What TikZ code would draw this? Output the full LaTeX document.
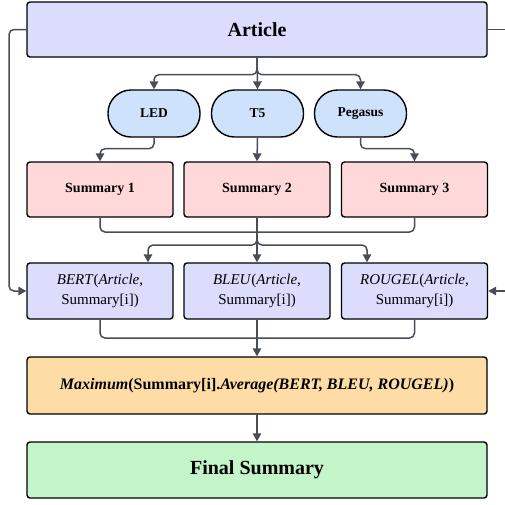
\documentclass[tikz,border=0pt]{standalone}
\usepackage{fontspec}
\setmainfont{Liberation Serif}
\usetikzlibrary{arrows.meta,calc}
\definecolor{lav}{RGB}{220,220,252}
\definecolor{ovalc}{RGB}{206,226,252}
\definecolor{pinkc}{RGB}{255,217,217}
\definecolor{orangec}{RGB}{254,220,166}
\definecolor{greenc}{RGB}{196,245,200}
\definecolor{linec}{RGB}{72,77,86}
\tikzset{
  box/.style={draw=black, line width=1.4pt, rounded corners=3pt, inner sep=0pt, align=center},
  ovalbox/.style={draw=black, line width=1.4pt, rounded corners=23pt, minimum width=92pt, minimum height=47pt, fill=ovalc, font=\fontsize{13.5}{16}\selectfont\bfseries, inner sep=0pt},
  sumbox/.style={box, minimum width=146pt, minimum height=55pt, fill=pinkc, font=\fontsize{14}{17}\selectfont\bfseries},
  metbox/.style={box, minimum width=146pt, minimum height=56pt, fill=lav, font=\fontsize{15}{20}\selectfont},
  wide/.style={box, minimum width=460pt, minimum height=56pt},
  conn/.style={draw=linec, line width=1.5pt, rounded corners=5pt},
  arr/.style={conn, -{Triangle[length=8pt,width=8.5pt]}}
}
\begin{document}
\begin{tikzpicture}[x=1pt,y=-1pt]
\useasboundingbox (0,0) rectangle (505,504);
\node[wide, fill=lav, minimum height=55pt, font=\fontsize{20}{24}\selectfont\bfseries] (article) at (257,29.5) {Article};
\node[ovalbox] (led) at (154,113.5) {LED};
\node[ovalbox] (t5) at (257.5,113.5) {T5};
\node[ovalbox] (peg) at (360.5,113.5) {Pegasus};
\node[sumbox] (s1) at (100,189.5) {Summary 1};
\node[sumbox] (s2) at (257,189.5) {Summary 2};
\node[sumbox] (s3) at (414.5,189.5) {Summary 3};
\node[metbox] (bert) at (100,291) {\textit{BERT}(\textit{Article},\\Summary[i])};
\node[metbox] (bleu) at (257,291) {\textit{BLEU}(\textit{Article},\\Summary[i])};
\node[metbox] (rouge) at (414.5,291) {\textit{ROUGEL}(\textit{Article},\\Summary[i])};
\node[wide, fill=orangec, minimum height=57pt, font=\fontsize{16}{19}\selectfont\bfseries] (max) at (257,385.5) {\textit{Maximum}(Summary[i].\textit{Average(BERT, BLEU, ROUGEL)})};
\node[wide, fill=greenc, font=\fontsize{20}{24}\selectfont\bfseries] (final) at (257,470) {Final Summary};
\coordinate (m1) at (257,232);
\coordinate (m2) at (257,338);
\coordinate (rin) at (510,291);
\coordinate (rout) at (510,29.5);
% article to models
\draw[arr] (article.south) -- ++(0,17) -| (led.north);
\draw[arr] (article.south) -- ++(0,17) -| (peg.north);
\draw[arr] (article.south) -- (t5.north);
% models to summaries
\draw[arr] (led.south) -- ++(0,11) -| (s1.north);
\draw[arr] (peg.south) -- ++(0,11) -| (s3.north);
\draw[arr] (t5.south) -- (s2.north);
% summaries merge
\draw[conn] (s1.south) |- (m1);
\draw[conn] (s3.south) |- (m1);
\draw[conn] (s2.south) -- (m1);
\draw[arr] (m1) -- ++(0,13) -| ([xshift=48pt]bert.north);
\draw[arr] (m1) -- ++(0,13) -| ([xshift=-47.5pt]rouge.north);
\draw[arr] (m1) -- (bleu.north);
% article side lines
\draw[arr] (article.west) -| (9,200) |- (bert.west);
\draw[conn] (article.east) -- (rout);
\draw[arr] (rin) -- (rouge.east);
% metrics merge
\draw[conn] (bert.south) |- (m2);
\draw[conn] (rouge.south) |- (m2);
\draw[conn] (bleu.south) -- (m2);
\draw[arr] (m2) -- (max.north);
\draw[arr] (max.south) -- (final.north);
\end{tikzpicture}
\end{document}
